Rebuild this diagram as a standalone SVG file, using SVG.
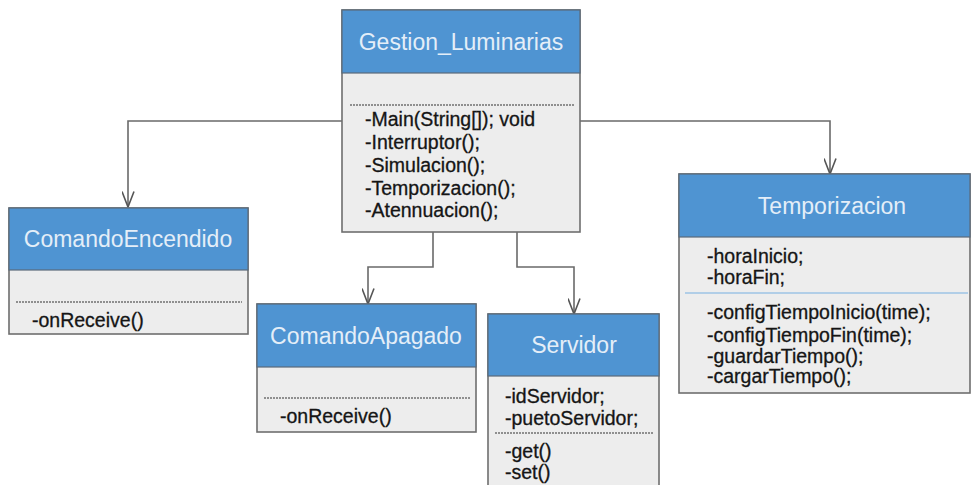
<svg xmlns="http://www.w3.org/2000/svg" width="971" height="485" viewBox="0 0 971 485">
<defs>
<marker id="arr" viewBox="0 0 17 13" refX="16" refY="6.5" markerWidth="17" markerHeight="13" markerUnits="userSpaceOnUse" orient="auto">
<path d="M0.5,0.5 L16,6.5 L0.5,12.5" fill="none" stroke="#555" stroke-width="1.6"/>
</marker>
<style>
.body{fill:#EDEDED;stroke:#6E6E6E;stroke-width:1.6}
.head{fill:#4F94D2;stroke:#5A6A7A;stroke-width:1.2}
.title{font-family:"Liberation Sans",Arial,sans-serif;font-size:23px;fill:#E4EEF8;text-anchor:middle}
.t{font-family:"Liberation Sans",Arial,sans-serif;font-size:19.5px;fill:#151515;stroke:#151515;stroke-width:0.3}
.dash{stroke:#707070;stroke-width:1.5;stroke-dasharray:2 1;fill:none}
.conn{fill:none;stroke:#6A6A6A;stroke-width:1.6}
</style>
</defs>
<rect width="971" height="485" fill="#FFFFFF"/>
<g id="connectors">
<path class="conn" d="M342,121 H128 V207" marker-end="url(#arr)"/>
<path class="conn" d="M580,121 H830 V174" marker-end="url(#arr)"/>
<path class="conn" d="M433,232 V267 H368 V304" marker-end="url(#arr)"/>
<path class="conn" d="M517,232 V267 H574 V314" marker-end="url(#arr)"/>
</g>
<g id="Gestion_Luminarias">
<rect class="body" x="342" y="10" width="238" height="222"/>
<rect class="head" x="342" y="10" width="238" height="63"/>
<text class="title" x="461" y="50">Gestion_Luminarias</text>
<line class="dash" x1="350" y1="105" x2="574" y2="105"/>
<text class="t" x="365" y="126">-Main(String[]); void</text>
<text class="t" x="365" y="149">-Interruptor();</text>
<text class="t" x="365" y="172">-Simulacion();</text>
<text class="t" x="365" y="195">-Temporizacion();</text>
<text class="t" x="365" y="217">-Atennuacion();</text>
</g>
<g id="ComandoEncendido">
<rect class="body" x="9" y="208" width="239" height="126"/>
<rect class="head" x="9" y="208" width="239" height="62"/>
<text class="title" x="128" y="247">ComandoEncendido</text>
<line class="dash" x1="16" y1="302" x2="242" y2="302"/>
<text class="t" x="32" y="327">-onReceive()</text>
</g>
<g id="ComandoApagado">
<rect class="body" x="257" y="304" width="219" height="128"/>
<rect class="head" x="257" y="304" width="219" height="63"/>
<text class="title" x="366" y="344">ComandoApagado</text>
<line class="dash" x1="264" y1="398" x2="470" y2="398"/>
<text class="t" x="280" y="423">-onReceive()</text>
</g>
<g id="Servidor">
<rect class="body" x="488" y="314" width="171" height="180"/>
<rect class="head" x="488" y="314" width="171" height="62"/>
<text class="title" x="574" y="353">Servidor</text>
<text class="t" x="505" y="403">-idServidor;</text>
<text class="t" x="505" y="425">-puetoServidor;</text>
<line class="dash" x1="495" y1="433" x2="653" y2="433"/>
<text class="t" x="505" y="458">-get()</text>
<text class="t" x="505" y="479">-set()</text>
</g>
<g id="Temporizacion">
<rect class="body" x="679" y="174" width="291" height="219"/>
<rect class="head" x="679" y="174" width="291" height="63"/>
<text class="title" x="832" y="214">Temporizacion</text>
<text class="t" x="707" y="263">-horaInicio;</text>
<text class="t" x="707" y="284">-horaFin;</text>
<line x1="685" y1="293" x2="968" y2="293" stroke="#9CC3E5" stroke-width="1.5"/>
<text class="t" x="707" y="319">-configTiempoInicio(time);</text>
<text class="t" x="707" y="342">-configTiempoFin(time);</text>
<text class="t" x="707" y="363">-guardarTiempo();</text>
<text class="t" x="707" y="383">-cargarTiempo();</text>
</g>
</svg>
